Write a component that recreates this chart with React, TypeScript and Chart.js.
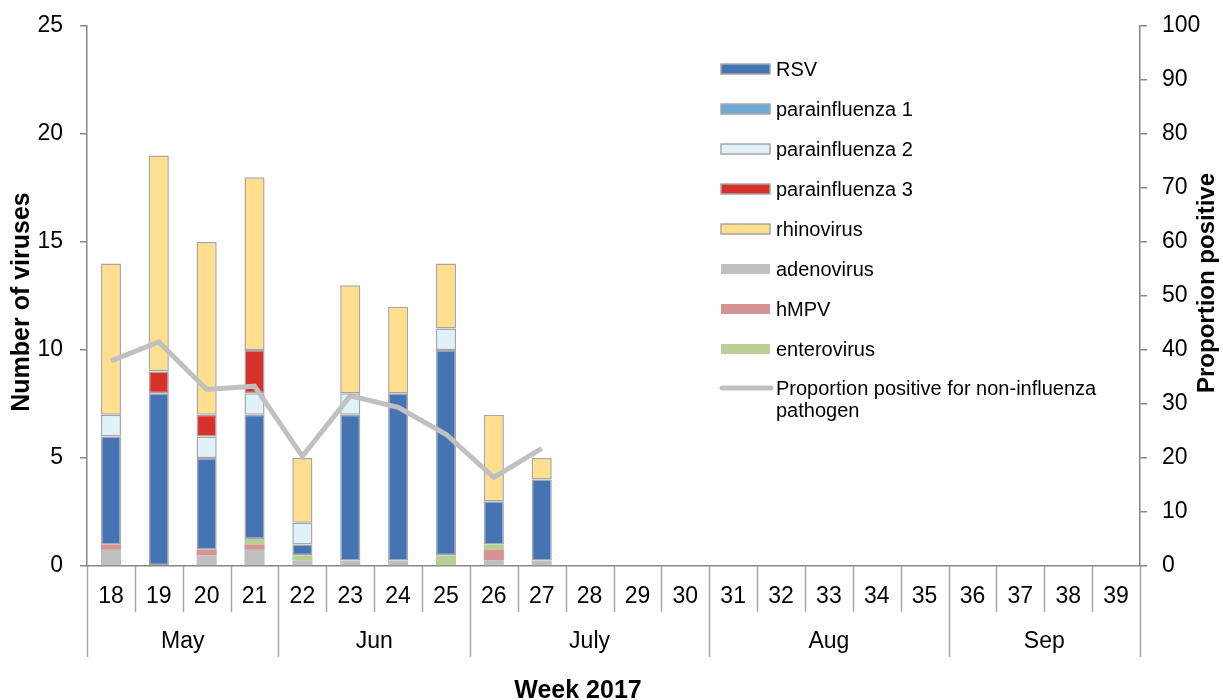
import React, { useEffect, useRef } from "react";
import { Chart, registerables } from "chart.js";

Chart.register(...registerables);

const weeks = ["18","19","20","21","22","23","24","25","26","27","28","29","30","31","32","33","34","35","36","37","38","39"];
const months = ["May", "Jun", "July", "Aug", "Sep"];
const monthWeekCounts = [4, 4, 5, 5, 4];

const adenovirus = [0.75, 0, 0.5, 0.75, 0.25, 0.25, 0.25, 0, 0.25, 0.25];
const hMPV = [0.25, 0, 0.25, 0.25, 0, 0, 0, 0, 0.5, 0];
const enterovirus = [0, 0, 0, 0.25, 0.25, 0, 0, 0.5, 0.25, 0];
const rsv = [5, 8, 4.25, 5.75, 0.5, 6.75, 7.75, 9.5, 2, 3.75];
const parainfluenza1 = [0, 0, 0, 0, 0, 0, 0, 0, 0, 0];
const parainfluenza2 = [1, 0, 1, 1, 1, 1, 0, 1, 0, 0];
const parainfluenza3 = [0, 1, 1, 2, 0, 0, 0, 0, 0, 0];
const rhinovirus = [7, 10, 8, 8, 3, 5, 4, 3, 4, 1];
const proportionPositive = [38, 41.5, 32.7, 33.3, 20.3, 31.5, 29.4, 24.4, 16.4, 21.8];

const leftTicks = [0, 5, 10, 15, 20, 25];
const rightTicks = [0, 10, 20, 30, 40, 50, 60, 70, 80, 90, 100];

const FONT = "'Liberation Sans', Arial, Helvetica, sans-serif";
const EDGE = "#a6a6a6";
const AXIS = "#868686";
const TICK_SIZE = 23;

type Series = { label: string; data: number[]; color: string; bordered: boolean };

const stackSeries: Series[] = [
  { label: "adenovirus", data: adenovirus, color: "#bfbfbf", bordered: false },
  { label: "hMPV", data: hMPV, color: "#d39493", bordered: false },
  { label: "enterovirus", data: enterovirus, color: "#b9cf95", bordered: false },
  { label: "RSV", data: rsv, color: "#4574b5", bordered: true },
  { label: "parainfluenza 1", data: parainfluenza1, color: "#6eaad6", bordered: true },
  { label: "parainfluenza 2", data: parainfluenza2, color: "#dff2f8", bordered: true },
  { label: "parainfluenza 3", data: parainfluenza3, color: "#d8302a", bordered: true },
  { label: "rhinovirus", data: rhinovirus, color: "#ffdf8e", bordered: true },
];

const legendOrder = ["RSV", "parainfluenza 1", "parainfluenza 2", "parainfluenza 3", "rhinovirus", "adenovirus", "hMPV", "enterovirus"];
const lineLabel = ["Proportion positive for non-influenza", "pathogen"];
const LINE_COLOR = "#c0c0c0";

const overlayPlugin = {
  id: "overlay",
  afterDraw(chart: any) {
    const { ctx, chartArea, scales } = chart;
    const x = scales.x;
    const step = x.getPixelForValue(1) - x.getPixelForValue(0);
    const edge = (i: number) => x.getPixelForValue(0) - step / 2 + i * step;
    const bottom = chartArea.bottom;
    ctx.save();
    ctx.strokeStyle = EDGE;
    ctx.lineWidth = 1.5;
    const boundaries = new Set<number>();
    let acc = 0;
    boundaries.add(0);
    monthWeekCounts.forEach((c) => { acc += c; boundaries.add(acc); });
    for (let i = 0; i <= weeks.length; i++) {
      const px = Math.round(edge(i)) + 0.5;
      ctx.beginPath();
      ctx.moveTo(px, bottom);
      ctx.lineTo(px, bottom + (boundaries.has(i) ? 91 : 46));
      ctx.stroke();
    }
    ctx.fillStyle = "#000";
    ctx.font = `${TICK_SIZE}px ${FONT}`;
    ctx.textAlign = "center";
    ctx.textBaseline = "middle";
    let start = 0;
    months.forEach((m, k) => {
      const end = start + monthWeekCounts[k];
      ctx.fillText(m, (edge(start) + edge(end)) / 2, bottom + 76);
      start = end;
    });
    ctx.font = `bold 25px ${FONT}`;
    ctx.fillText("Week 2017", 578, 691);
    ctx.save();
    ctx.translate(22, 302);
    ctx.rotate(-Math.PI / 2);
    ctx.font = `bold 25px ${FONT}`;
    ctx.fillText("Number of viruses", 0, 0);
    ctx.restore();
    ctx.save();
    ctx.translate(1207, 283);
    ctx.rotate(-Math.PI / 2);
    ctx.font = `bold 24px ${FONT}`;
    ctx.fillText("Proportion positive", 0, 0);
    ctx.restore();
    const lx = 721, ly = 69, gap = 40;
    ctx.font = `20px ${FONT}`;
    ctx.textAlign = "left";
    legendOrder.forEach((name, i) => {
      const s = stackSeries.find((q) => q.label === name)!;
      const cy = ly + i * gap;
      ctx.fillStyle = s.color;
      ctx.fillRect(lx, cy - 5, 49, 10);
      if (s.bordered) {
        ctx.strokeStyle = EDGE;
        ctx.lineWidth = 1.5;
        ctx.strokeRect(lx, cy - 5, 49, 10);
      }
      ctx.fillStyle = "#000";
      ctx.fillText(name, lx + 55, cy + 1);
    });
    const cy = ly + legendOrder.length * gap - 1;
    ctx.strokeStyle = LINE_COLOR;
    ctx.lineWidth = 5;
    ctx.lineCap = "round";
    ctx.beginPath();
    ctx.moveTo(lx + 1, cy);
    ctx.lineTo(lx + 50, cy);
    ctx.stroke();
    ctx.fillStyle = "#000";
    ctx.fillText(lineLabel[0], lx + 55, cy + 1);
    ctx.fillText(lineLabel[1], lx + 55, cy + 23);
    ctx.restore();
  },
};

export default function App() {
  const ref = useRef<HTMLCanvasElement | null>(null);
  useEffect(() => {
    if (!ref.current) return;
    Chart.defaults.font.family = FONT;
    const datasets: any[] = stackSeries.map((s) => ({
      type: "bar",
      label: s.label,
      data: s.data,
      backgroundColor: s.color,
      borderColor: EDGE,
      borderWidth: (c: any) => (s.bordered && c.raw ? 1.5 : 0),
      borderSkipped: false,
      stack: "v",
      yAxisID: "y",
      order: 1,
      barPercentage: 1,
      categoryPercentage: 0.42,
    }));
    datasets.push({
      type: "line",
      label: lineLabel.join(" "),
      data: proportionPositive,
      borderColor: LINE_COLOR,
      borderWidth: 5,
      pointRadius: 0,
      tension: 0,
      yAxisID: "y1",
      order: 0,
    });
    const chart = new Chart(ref.current, {
      type: "bar",
      data: { labels: weeks, datasets },
      options: {
        animation: false,
        responsive: true,
        maintainAspectRatio: false,
        layout: { padding: { top: 26, left: 0, right: 0, bottom: 0 } },
        plugins: { legend: { display: false }, tooltip: { enabled: false } },
        scales: {
          x: {
            stacked: true,
            offset: true,
            grid: { display: false, drawTicks: false },
            border: { display: true, color: AXIS, width: 1.5 },
            ticks: { color: "#000", font: { size: TICK_SIZE }, padding: 17, maxRotation: 0, autoSkip: false },
            afterFit: (s: any) => { s.height = 134; s.paddingLeft = 0; s.paddingRight = 0; },
          },
          y: {
            position: "left",
            stacked: true,
            min: 0,
            max: 25,
            afterBuildTicks: (s: any) => { s.ticks = leftTicks.map((v) => ({ value: v })); },
            ticks: { color: "#000", font: { size: TICK_SIZE }, padding: 17 },
            grid: { drawOnChartArea: false, tickLength: 7, color: AXIS, lineWidth: 1.5 },
            border: { color: AXIS, width: 1.5 },
            afterFit: (s: any) => { s.width = 87; s.paddingTop = 0; s.paddingBottom = 0; },
          },
          y1: {
            position: "right",
            min: 0,
            max: 100,
            afterBuildTicks: (s: any) => { s.ticks = rightTicks.map((v) => ({ value: v })); },
            ticks: { color: "#000", font: { size: TICK_SIZE }, padding: 15 },
            grid: { drawOnChartArea: false, tickLength: 7, color: AXIS, lineWidth: 1.5 },
            border: { color: AXIS, width: 1.5 },
            afterFit: (s: any) => { s.width = 83; s.paddingTop = 0; s.paddingBottom = 0; },
          },
        },
      } as any,
      plugins: [overlayPlugin],
    });
    return () => chart.destroy();
  }, []);
  return (
    <div style={{ position: "absolute", left: 0, top: 0, width: 1223, height: 700, background: "#fff" }}>
      <canvas ref={ref} />
    </div>
  );
}
